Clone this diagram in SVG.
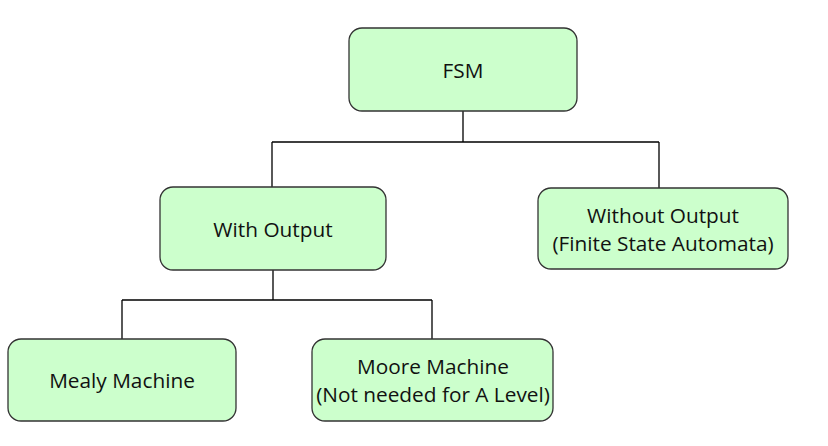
<svg xmlns="http://www.w3.org/2000/svg" width="828" height="446" viewBox="0 0 828 446">
<style>
.box{fill:#ccffcc;stroke:#333;stroke-width:1.3}
.lbl{font-family:"Open Sans","Liberation Sans",sans-serif;font-size:20.8px;fill:#111;text-anchor:middle;dominant-baseline:central}
.con{fill:none;stroke:#000;stroke-width:1.3}
</style>
<rect width="828" height="446" fill="#fff"/>
<g id="connectors">
<path class="con" d="M463,111 V142 M272,142 H659 M272,142 V188 M659,142 V188"/>
<path class="con" d="M273,270 V300 M122,300 H432 M122,300 V339 M432,300 V339"/>
</g>
<g id="fsm">
<rect class="box" x="349" y="28" width="228" height="83" rx="13"/>
<text class="lbl" x="463" y="70">FSM</text>
</g>
<g id="with-output">
<rect class="box" x="160" y="187" width="226" height="83" rx="13"/>
<text class="lbl" x="273" y="229">With Output</text>
</g>
<g id="without-output">
<rect class="box" x="538" y="188" width="250" height="81" rx="13"/>
<text class="lbl" x="663" y="215">Without Output</text>
<text class="lbl" x="663" y="243">(Finite State Automata)</text>
</g>
<g id="mealy">
<rect class="box" x="8" y="339" width="228" height="82" rx="13"/>
<text class="lbl" x="122" y="380">Mealy Machine</text>
</g>
<g id="moore">
<rect class="box" x="312" y="339" width="241" height="82" rx="13"/>
<text class="lbl" x="433" y="366">Moore Machine</text>
<text class="lbl" x="433" y="394">(Not needed for A Level)</text>
</g>
</svg>
